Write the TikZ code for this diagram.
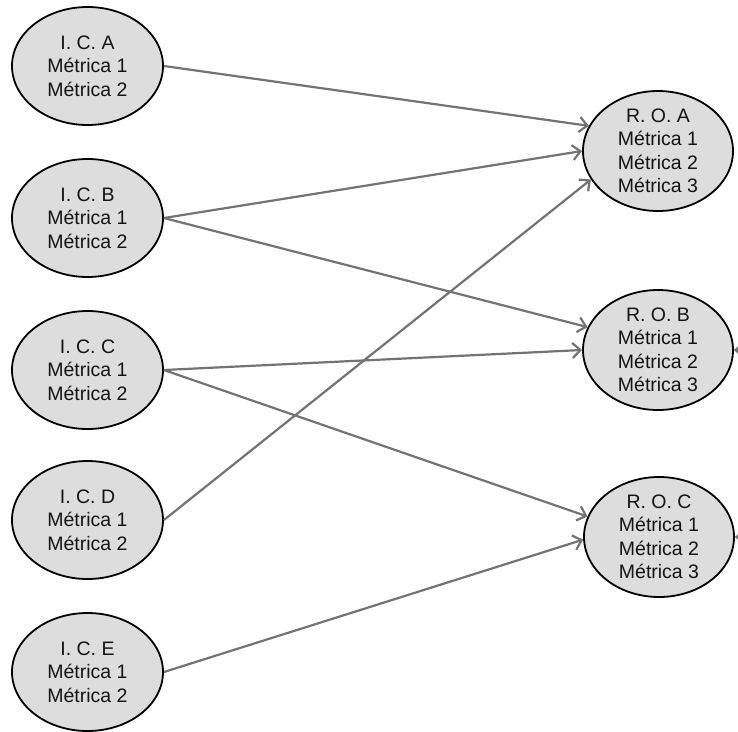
\documentclass[tikz,border=0pt]{standalone}
\usepackage{fontspec}
\setmainfont{Liberation Sans}
\usetikzlibrary{shapes.geometric,arrows.meta}
\definecolor{nodefill}{RGB}{221,221,221}
\definecolor{linkgray}{RGB}{115,115,115}
\definecolor{txt}{RGB}{20,20,20}
\tikzset{
  metric/.style={ellipse, draw=black, line width=1.8pt, fill=nodefill,
    minimum width=151pt, minimum height=118pt, inner sep=0pt,
    align=center, text=txt, font=\fontsize{19.5}{23.5}\selectfont},
  result/.style={metric, minimum width=150pt, minimum height=120pt},
  link/.style={draw=linkgray, line width=2.2pt,
    -{Straight Barb[length=8pt,width=15pt]}}
}
\begin{document}
\begin{tikzpicture}[x=1pt,y=-1pt]
  \clip (0,0) rectangle (738,731);
  \fill[white] (0,0) rectangle (738,731);

  % indicator nodes (left column)
  \node[metric] (ica) at (87.5,66)  {I. C. A\\Métrica 1\\Métrica 2};
  \node[metric] (icb) at (87.5,218) {I. C. B\\Métrica 1\\Métrica 2};
  \node[metric] (icc) at (87.5,370) {I. C. C\\Métrica 1\\Métrica 2};
  \node[metric] (icd) at (87.5,520) {I. C. D\\Métrica 1\\Métrica 2};
  \node[metric] (ice) at (87.5,672) {I. C. E\\Métrica 1\\Métrica 2};

  % result nodes (right column)
  \node[result] (roa) at (658,151) {R. O. A\\Métrica 1\\Métrica 2\\Métrica 3};
  \node[result] (rob) at (658,350) {R. O. B\\Métrica 1\\Métrica 2\\Métrica 3};
  \node[result] (roc) at (659,537) {R. O. C\\Métrica 1\\Métrica 2\\Métrica 3};

  % links
  \draw[link] (ica.east) -- (roa.160);
  \draw[link] (icb.east) -- (roa.180);
  \draw[link] (icb.east) -- (rob.162);
  \draw[link] (icc.east) -- (rob.180);
  \draw[link] (icc.east) -- (roc.164);
  \draw[link] (icd.east) -- (roa.203);
  \draw[link] (ice.east) -- (roc.182);

  % incoming links from the right
  \coordinate (inb) at (800,350);
  \coordinate (inc) at (800,537);
  \draw[link] (inb) -- (rob.east);
  \draw[link] (inc) -- (roc.east);
\end{tikzpicture}
\end{document}
